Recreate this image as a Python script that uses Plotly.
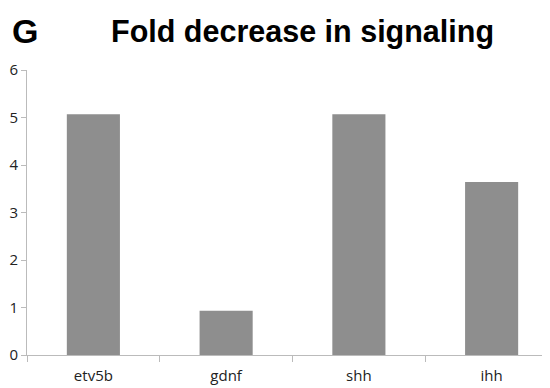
import plotly.graph_objects as go

categories = ["etv5b", "gdnf", "shh", "ihh"]
values = [5.07, 0.93, 5.07, 3.64]
y_ticks = [0, 1, 2, 3, 4, 5, 6]

# page has an 8px body margin; figure coordinates are offset accordingly
OFF = 8
W, H = 550, 388
L, T = 27 - OFF, 70 - OFF
R = 0
B = H - (355 - OFF)

fig = go.Figure(go.Bar(x=categories, y=values, width=0.4, marker=dict(color="#8e8e8e", line=dict(width=0))))

fig.update_layout(
    width=W, height=H,
    margin=dict(l=L, r=R, t=T, b=B, autoexpand=False),
    paper_bgcolor="white", plot_bgcolor="white",
    showlegend=False,
    font=dict(family="Liberation Sans, Arial", color="#222"),
)
pw, ph = W - L - R, H - T - B
def px(x): return (x - OFF - L) / pw
def py(y): return (H - B - (y - OFF)) / ph
fig.add_annotation(text="<b>Fold decrease in signaling</b>", x=px(302), y=py(31), xref="paper", yref="paper",
                   showarrow=False, xanchor="center", yanchor="middle",
                   font=dict(size=30.5, family="Liberation Sans, Arial", color="black"))
fig.add_annotation(text="<b>G</b>", x=px(25), y=py(31), xref="paper", yref="paper",
                   showarrow=False, xanchor="center", yanchor="middle",
                   font=dict(size=34, family="Liberation Sans, Arial", color="black"))
fig.update_xaxes(type="category", range=[-0.5, 3.5], tickson="boundaries", ticks="outside", ticklen=6,
                 tickcolor="#bbbbbb", showline=True, linecolor="#bbbbbb", linewidth=1, showgrid=False,
                 automargin=False, ticklabelstandoff=7,
                 tickfont=dict(size=15, family="Open Sans, Liberation Sans", color="#222"))
fig.update_yaxes(range=[0, 6], tickvals=y_ticks, ticks="outside", ticklen=5, tickcolor="#bbbbbb",
                 showline=True, linecolor="#bbbbbb", linewidth=1, showgrid=False, zeroline=False,
                 automargin=False, ticklabelstandoff=0,
                 tickfont=dict(size=15, family="Open Sans, Liberation Sans", color="#222"))
fig.write_html("out.html")
